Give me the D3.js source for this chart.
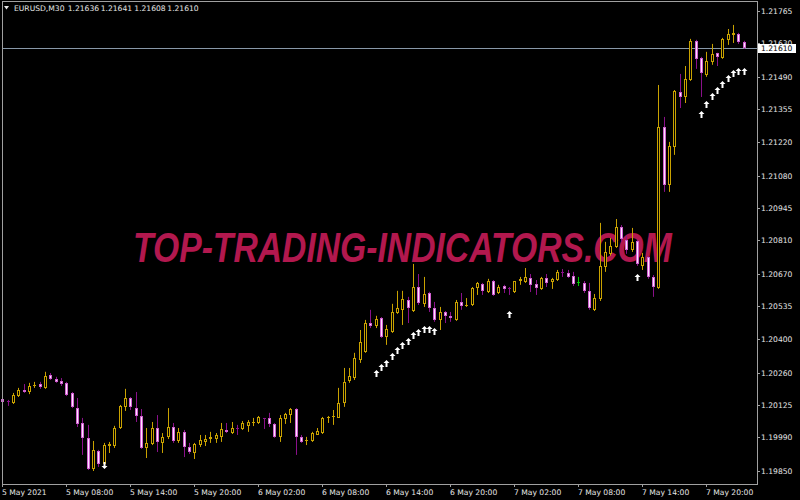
<!DOCTYPE html>
<html><head><meta charset="utf-8">
<script src="https://cdn.jsdelivr.net/npm/d3@7/dist/d3.min.js"></script>
<style>html,body{margin:0;padding:0;background:#000;}svg{display:block}</style>
</head><body><svg id="chart" width="800" height="500"></svg>
<script>
// ---- data (EURUSD M30, 5 May 02:00 .. 7 May 23:30) ----
const opens = [1.20150,1.20142,1.20134,1.20162,1.20187,1.20179,1.20207,1.20212,1.20196,1.20250,
1.20231,1.20225,1.20217,1.20175,1.20112,1.20050,1.19988,1.19858,1.19934,1.19879,
1.19954,1.19954,1.20029,1.20116,1.20154,1.20112,1.20079,1.19946,1.19963,1.20029,
1.19967,1.19992,1.20033,1.19975,1.20013,1.19950,1.19925,1.19958,1.19971,1.19985,
1.19983,1.19992,1.20021,1.20008,1.20029,1.20025,1.20037,1.20052,1.20050,1.20069,
1.20071,1.20046,1.19992,1.20067,1.20083,1.20108,1.19992,1.19977,1.19975,1.20000,
1.20008,1.20069,1.20073,1.20071,1.20133,1.20225,1.20237,1.20312,1.20346,1.20466,
1.20454,1.20487,1.20408,1.20429,1.20508,1.20521,1.20562,1.20516,1.20616,1.20546,
1.20591,1.20529,1.20479,1.20512,1.20496,1.20479,1.20554,1.20537,1.20541,1.20612,
1.20629,1.20595,1.20641,1.20591,1.20620,1.20610,1.20595,1.20643,1.20637,1.20654,
1.20629,1.20608,1.20654,1.20637,1.20645,1.20677,1.20675,1.20662,1.20637,1.20633,
1.20600,1.20521,1.20566,1.20700,1.20754,1.20783,1.20866,1.20812,1.20770,1.20808,
1.20704,1.20741,1.20658,1.20612,1.21283,1.21041,1.21199,1.21428,1.21407,1.21478,
1.21640,1.21570,1.21499,1.21553,1.21591,1.21570,1.21645,1.21666,1.21670,1.21636];
const highs = [1.20158,1.20146,1.20175,1.20196,1.20212,1.20217,1.20221,1.20221,1.20263,1.20258,
1.20242,1.20237,1.20221,1.20179,1.20154,1.20071,1.20042,1.19975,1.19938,1.19967,
1.19971,1.20038,1.20125,1.20192,1.20158,1.20179,1.20108,1.20029,1.20054,1.20083,
1.20008,1.20112,1.20050,1.20029,1.20021,1.19967,1.19967,1.20000,1.20000,1.20013,
1.20008,1.20050,1.20050,1.20054,1.20042,1.20058,1.20062,1.20071,1.20079,1.20071,
1.20092,1.20050,1.20083,1.20092,1.20112,1.20112,1.20000,1.19992,1.20013,1.20029,
1.20075,1.20079,1.20104,1.20196,1.20279,1.20279,1.20342,1.20437,1.20479,1.20521,
1.20496,1.20491,1.20458,1.20546,1.20600,1.20600,1.20575,1.20712,1.20670,1.20658,
1.20596,1.20554,1.20533,1.20516,1.20512,1.20562,1.20591,1.20570,1.20616,1.20637,
1.20633,1.20650,1.20645,1.20625,1.20625,1.20616,1.20641,1.20658,1.20695,1.20670,
1.20645,1.20658,1.20670,1.20654,1.20687,1.20691,1.20687,1.20679,1.20658,1.20641,
1.20633,1.20587,1.20883,1.20804,1.20820,1.20899,1.20874,1.20829,1.20862,1.20812,
1.20758,1.20745,1.20666,1.21457,1.21324,1.21220,1.21436,1.21503,1.21536,1.21649,
1.21645,1.21574,1.21595,1.21628,1.21591,1.21653,1.21690,1.21707,1.21674,1.21641];
const lows = [1.20129,1.20121,1.20129,1.20158,1.20175,1.20170,1.20196,1.20192,1.20192,1.20229,
1.20217,1.20204,1.20162,1.20112,1.20033,1.19917,1.19854,1.19850,1.19867,1.19871,
1.19925,1.19946,1.20025,1.20100,1.20104,1.20054,1.19942,1.19904,1.19958,1.19929,
1.19925,1.19983,1.19967,1.19967,1.19908,1.19921,1.19900,1.19950,1.19954,1.19967,
1.19967,1.19971,1.20008,1.20004,1.20000,1.20021,1.20013,1.20037,1.20046,1.20025,
1.20033,1.19988,1.19971,1.20046,1.20050,1.19917,1.19967,1.19958,1.19971,1.20000,
1.20004,1.20050,1.20042,1.20071,1.20117,1.20217,1.20229,1.20300,1.20342,1.20445,
1.20445,1.20404,1.20375,1.20425,1.20504,1.20458,1.20466,1.20512,1.20541,1.20533,
1.20512,1.20471,1.20437,1.20466,1.20471,1.20475,1.20521,1.20533,1.20537,1.20583,
1.20583,1.20591,1.20579,1.20587,1.20591,1.20583,1.20591,1.20625,1.20633,1.20595,
1.20583,1.20604,1.20616,1.20608,1.20641,1.20658,1.20654,1.20620,1.20620,1.20591,
1.20521,1.20516,1.20558,1.20679,1.20746,1.20779,1.20804,1.20754,1.20762,1.20704,
1.20687,1.20650,1.20575,1.20608,1.21012,1.21012,1.21166,1.21361,1.21382,1.21474,
1.21524,1.21407,1.21491,1.21541,1.21536,1.21566,1.21624,1.21632,1.21628,1.21608];
const closes = [1.20138,1.20140,1.20166,1.20187,1.20179,1.20204,1.20209,1.20200,1.20246,1.20233,
1.20219,1.20212,1.20166,1.20116,1.20046,1.19988,1.19858,1.19938,1.19879,1.19958,
1.19963,1.20029,1.20121,1.20154,1.20116,1.20079,1.19946,1.19967,1.20029,1.19971,
1.19992,1.20033,1.19975,1.20013,1.19950,1.19929,1.19963,1.19979,1.19983,1.19990,
1.20000,1.20025,1.20013,1.20029,1.20027,1.20050,1.20054,1.20056,1.20075,1.20067,
1.20046,1.19992,1.20071,1.20087,1.20108,1.19992,1.19971,1.19981,1.20008,1.20017,
1.20071,1.20073,1.20077,1.20133,1.20221,1.20246,1.20321,1.20387,1.20466,1.20454,
1.20483,1.20408,1.20441,1.20512,1.20529,1.20566,1.20529,1.20616,1.20550,1.20587,
1.20529,1.20479,1.20512,1.20496,1.20487,1.20554,1.20537,1.20541,1.20612,1.20633,
1.20600,1.20641,1.20583,1.20616,1.20608,1.20606,1.20641,1.20648,1.20658,1.20625,
1.20612,1.20654,1.20633,1.20650,1.20679,1.20673,1.20658,1.20629,1.20637,1.20600,
1.20529,1.20570,1.20704,1.20762,1.20787,1.20866,1.20816,1.20770,1.20804,1.20712,
1.20741,1.20658,1.20616,1.21283,1.21041,1.21203,1.21432,1.21407,1.21482,1.21640,
1.21566,1.21508,1.21557,1.21586,1.21574,1.21649,1.21670,1.21674,1.21636,1.21610];

// indicator arrows (bar index, price)
const upArrowBars   = [70,71,72,73,74,75,76,77,78,79,80,81,95,119,131,132,133,134,135,136,137,138,139];
const upArrowPrices = [1.20254,1.20279,1.20296,1.20325,1.20350,1.20371,1.20387,1.20412,1.20425,1.20437,1.20437,1.20429,
                       1.20500,1.20654,1.21332,1.21374,1.21406,1.21432,1.21457,1.21481,1.21502,1.21510,1.21510];
const downArrowBars   = [19];
const downArrowPrices = [1.19875];

const timeLabels = ["5 May 2021","5 May 08:00","5 May 14:00","5 May 20:00","6 May 02:00","6 May 08:00",
                    "6 May 14:00","6 May 20:00","7 May 02:00","7 May 08:00","7 May 14:00","7 May 20:00"];
const timeLabelBars = [0,12,24,36,48,60,72,84,96,108,120,132];
const priceTicks = [1.21765,1.21630,1.21490,1.21355,1.21220,1.21080,1.20945,1.20810,1.20670,1.20535,
                    1.20400,1.20260,1.20125,1.19990,1.19850];
const lastPrice = 1.21610;
const headerSymbol = "EURUSD,M30";
const headerValues = ["1.21636","1.21641","1.21608","1.21610"];
const watermarkText = "TOP-TRADING-INDICATORS.COM";

// ---- drawing ----
const GOLD = "#c9a200", BEAR_WICK = "#8a108a", BEAR_EDGE = "#d060d0", BEAR_FILL = "#fde4fd", DOJI = "#00c800";
const FONT = "'DejaVu Sans', Tahoma, sans-serif";
const svg = d3.select("#chart");
svg.append("rect").attr("width", 800).attr("height", 500).attr("fill", "#000");

const x = d3.scaleLinear().domain([0, 139]).range([2.7, 744]);
const y = d3.scaleLinear().domain([1.19850, 1.21765]).range([471, 11]);
const px = i => Math.floor(x(i)) + 0.5;

// watermark (compressed horizontally to span its width)
const wm = svg.append("text").attr("x", 0).attr("y", 0)
  .attr("font-family", "'Liberation Sans', Arial, sans-serif").attr("font-weight", "bold")
  .attr("font-style", "italic").attr("font-size", 42).attr("fill", "#b2184e")
  .text(watermarkText);
const wmW = wm.node().getComputedTextLength() || 693;
wm.attr("transform", `translate(133,262) scale(${539 / wmW},1)`);

// current price line
const yLast = Math.round(y(lastPrice)) + 0.5;
svg.append("line").attr("x1", 2).attr("x2", 757).attr("y1", yLast).attr("y2", yLast)
  .attr("stroke", "#8898a8").attr("stroke-width", 1);

// candles
const bars = d3.range(opens.length).map(i => ({i, o: opens[i], h: highs[i], l: lows[i], c: closes[i]}));
const g = svg.append("g");
bars.forEach(d => {
  const X = px(d.i);
  const type = d.c > d.o ? "bull" : (d.c < d.o ? "bear" : "doji");
  const wickCol = type === "bull" ? GOLD : type === "bear" ? BEAR_WICK : DOJI;
  g.append("line").attr("x1", X).attr("x2", X).attr("y1", y(d.h)).attr("y2", y(d.l))
    .attr("stroke", wickCol).attr("stroke-width", 1);
  const t = Math.round(Math.min(y(d.o), y(d.c))), b = Math.round(Math.max(y(d.o), y(d.c)));
  if (b - t < 2) {
    g.append("line").attr("x1", X - 1.5).attr("x2", X + 1.5).attr("y1", t + 0.5).attr("y2", t + 0.5)
      .attr("stroke", wickCol).attr("stroke-width", 1);
  } else {
    g.append("rect").attr("x", X - 1).attr("y", t + 0.5).attr("width", 2).attr("height", b - t - 1)
      .attr("fill", type === "bull" ? "#000" : BEAR_FILL)
      .attr("stroke", type === "bull" ? GOLD : BEAR_EDGE).attr("stroke-width", 1);
  }
});

// arrows
const arrowG = svg.append("g").attr("fill", "#fff");
upArrowBars.forEach((bi, k) => {
  const X = Math.floor(x(bi)) + 0.5, cy = Math.round(y(upArrowPrices[k]));
  arrowG.append("path").attr("d",
    `M${X},${cy-4} L${X+3},${cy-1} L${X+1},${cy-1} L${X+1},${cy+3} L${X-1},${cy+3} L${X-1},${cy-1} L${X-3},${cy-1} Z`);
});
downArrowBars.forEach((bi, k) => {
  const X = Math.floor(x(bi)) + 0.5, cy = Math.round(y(downArrowPrices[k]));
  arrowG.append("path").attr("d",
    `M${X},${cy+4} L${X+3},${cy+1} L${X+1},${cy+1} L${X+1},${cy-3} L${X-1},${cy-3} L${X-1},${cy+1} L${X-3},${cy+1} Z`);
});

// frame
svg.append("rect").attr("x", 2.5).attr("y", 1.5).attr("width", 755).attr("height", 483)
  .attr("fill", "none").attr("stroke", "#a0a0a0").attr("stroke-width", 1);

// price axis
const pa = svg.append("g");
priceTicks.forEach(p => {
  const yy = Math.round(y(p)) + 0.5;
  pa.append("line").attr("x1", 757).attr("x2", 760).attr("y1", yy).attr("y2", yy).attr("stroke", "#a0a0a0");
  pa.append("text").attr("x", 761).attr("y", yy + 2.8).attr("font-family", FONT).attr("font-size", 7.6)
    .attr("fill", "#e6e6e6").text(p.toFixed(5));
});
// last price tag
pa.append("rect").attr("x", 758).attr("y", yLast - 4.5).attr("width", 38).attr("height", 9).attr("fill", "#fff");
pa.append("text").attr("x", 761).attr("y", yLast + 2.8).attr("font-family", FONT).attr("font-size", 7.6)
  .attr("fill", "#000").text(lastPrice.toFixed(5));

// time axis
const ta = svg.append("g");
timeLabelBars.forEach((bi, k) => {
  const X = Math.floor(x(bi)) + 0.5;
  ta.append("line").attr("x1", X).attr("x2", X).attr("y1", 484).attr("y2", 487).attr("stroke", "#a0a0a0");
  ta.append("text").attr("x", X - 0.5).attr("y", 495).attr("font-family", FONT).attr("font-size", 7.6)
    .attr("fill", "#e6e6e6").text(timeLabels[k]);
});

// header
svg.append("path").attr("d", "M4,6 L9,6 L6.5,9.5 Z").attr("fill", "#e6e6e6");
const hx = [14, 67.7, 100.7, 134.3, 167.3];
[headerSymbol].concat(headerValues).forEach((t, k) => {
  svg.append("text").attr("x", hx[k]).attr("y", 10.5).attr("font-family", FONT).attr("font-size", 7.6)
    .attr("fill", "#e6e6e6").text(t);
});
</script></body></html>
